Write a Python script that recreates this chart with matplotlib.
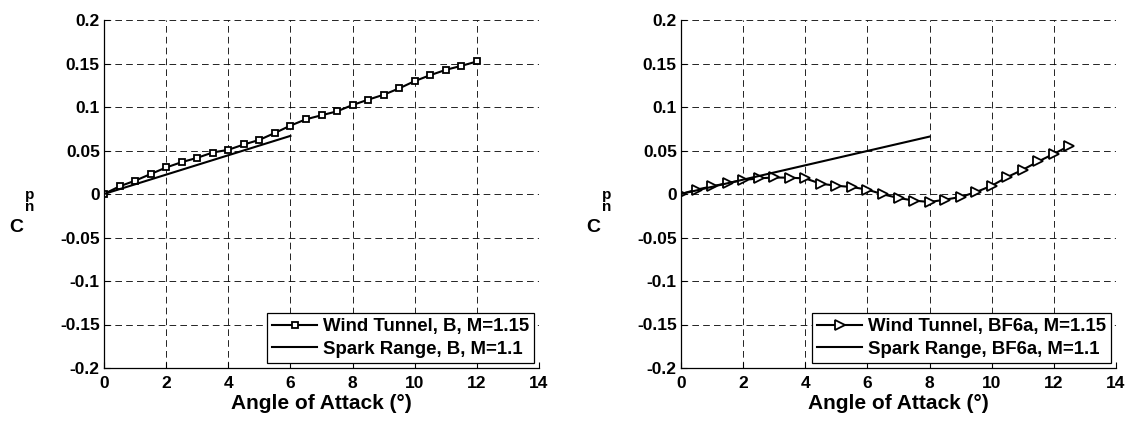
import numpy as np
import matplotlib
matplotlib.use("Agg")
import matplotlib.pyplot as plt

# Normal-force pitch damping coefficient vs angle of attack
alpha_b = [0, 0.5, 1, 1.5, 2, 2.5, 3, 3.5, 4, 4.5, 5, 5.5, 6, 6.5, 7, 7.5, 8,
           8.5, 9, 9.5, 10, 10.5, 11, 11.5, 12]
cnp_wt_b = [0.0, 0.0088, 0.0153, 0.0229, 0.0305, 0.0366, 0.0416, 0.0477, 0.0508,
            0.0569, 0.0622, 0.0702, 0.0786, 0.0859, 0.0905, 0.0950, 0.1023, 0.1084,
            0.1141, 0.1214, 0.1298, 0.1366, 0.1427, 0.1473, 0.1523]
alpha_sr_b = [0, 6]
cnp_sr_b = [0.0, 0.0668]

alpha_bf = [0, 0.5, 1, 1.5, 2, 2.5, 3, 3.5, 4, 4.5, 5, 5.5, 6, 6.5, 7, 7.5, 8,
            8.5, 9, 9.5, 10, 10.5, 11, 11.5, 12, 12.5]
cnp_wt_bf = [0.0, 0.005, 0.0088, 0.0126, 0.016, 0.018, 0.019, 0.0187, 0.0179,
             0.0118, 0.0095, 0.008, 0.005, -0.0004, -0.0046, -0.0076, -0.0092,
             -0.0065, -0.0034, 0.0023, 0.0095, 0.0195, 0.0279, 0.0374, 0.0462, 0.0553]
alpha_sr_bf = [0, 8]
cnp_sr_bf = [0.0, 0.066]

x_ticks = np.arange(0, 15, 2)
y_ticks = np.arange(-0.2, 0.2001, 0.05)
y_tick_labels = ["-0.2", "-0.15", "-0.1", "-0.05", "0", "0.05", "0.1", "0.15", "0.2"]

plt.rcParams["font.family"] = ["Liberation Sans", "DejaVu Sans"]
plt.rcParams["font.weight"] = "bold"
plt.rcParams["lines.scale_dashes"] = False

W, H = 1128, 421
fig = plt.figure(figsize=(W / 100, H / 100), dpi=100)

panels = [
    (104, alpha_b, cnp_wt_b, "s", 5, alpha_sr_b, cnp_sr_b,
     "Wind Tunnel, B, M=1.15", "Spark Range, B, M=1.1"),
    (681, alpha_bf, cnp_wt_bf, ">", 7, alpha_sr_bf, cnp_sr_bf,
     "Wind Tunnel, BF6a, M=1.15", "Spark Range, BF6a, M=1.1"),
]

for left_px, a_wt, c_wt, mk, ms, a_sr, c_sr, lab_wt, lab_sr in panels:
    ax = fig.add_axes([left_px / W, (H - 368) / H, 435 / W, 348 / H])
    ax.plot(a_wt, c_wt, color="k", lw=1.5, marker=mk, ms=ms,
            mfc="white", mec="k", mew=1.3, label=lab_wt)
    ax.plot(a_sr, c_sr, color="k", lw=1.5, label=lab_sr)

    ax.set_xlim(0, 14)
    ax.set_ylim(-0.2, 0.2)
    ax.set_xticks(x_ticks)
    ax.set_yticks(y_ticks)
    ax.set_yticklabels(y_tick_labels)
    ax.tick_params(direction="in", length=4, width=0.8, labelsize=12.5, pad=3)
    ax.tick_params(axis="x", pad=6)
    ax.grid(True, color="k", lw=0.6, linestyle=(0, (4.8, 3)))
    ax.spines["top"].set_visible(False)
    ax.spines["right"].set_visible(False)
    for s in ("left", "bottom"):
        ax.spines[s].set_linewidth(0.9)

    ax.set_xlabel("Angle of Attack (°)", fontsize=15, fontweight="bold", labelpad=2)

    leg = ax.legend(loc="lower right", bbox_to_anchor=(1.0, 0.0), fontsize=13.4,
                    numpoints=1, handlelength=2.4, handletextpad=0.3,
                    borderaxespad=0.25, borderpad=0.3, labelspacing=0.3,
                    fancybox=False, framealpha=1, edgecolor="k")
    leg.get_frame().set_linewidth(0.9)

    # C_np label: upright C with stacked subscripts
    fig.text((left_px - 88) / W, 1 - 227 / H, "C", fontsize=14, fontweight="bold",
             ha="center", va="center")
    fig.text((left_px - 74) / W, 1 - 195 / H, "p", fontsize=11, fontweight="bold",
             ha="center", va="center")
    fig.text((left_px - 74) / W, 1 - 207 / H, "n", fontsize=11, fontweight="bold",
             ha="center", va="center")

fig.savefig("out.png", dpi=100)
